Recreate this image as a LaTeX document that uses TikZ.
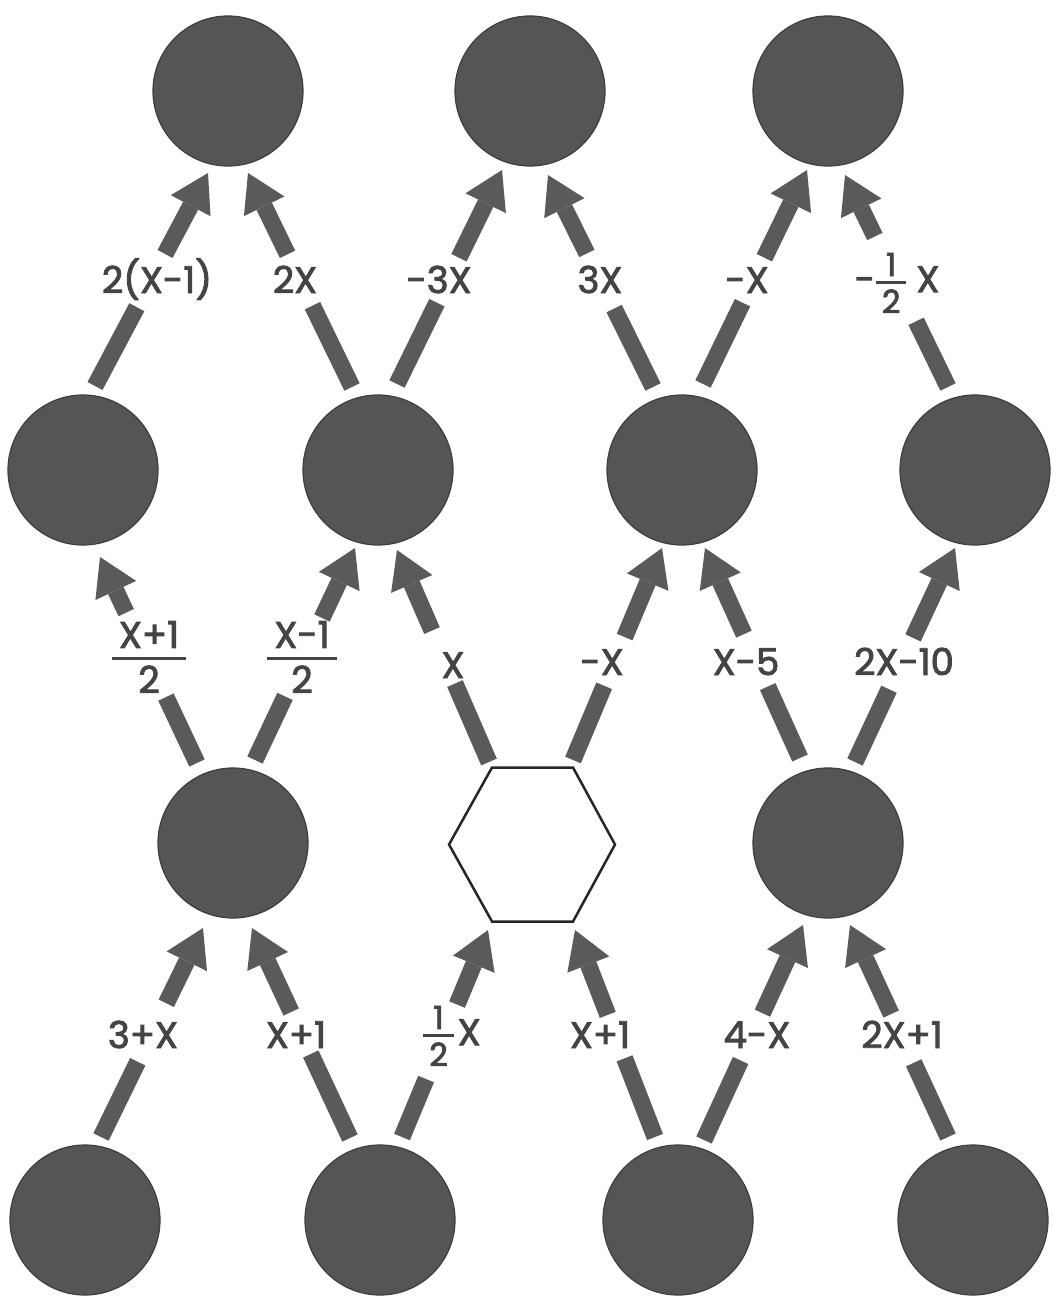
\documentclass[tikz,border=0pt]{standalone}
\usepackage{fontspec}
\newfontfamily\lblfont[FakeBold=2.5]{Poppins}
\usetikzlibrary{arrows.meta,calc}
\definecolor{discfill}{HTML}{555555}
\definecolor{discedge}{HTML}{3e3e3e}
\definecolor{barcol}{HTML}{5a5a5a}
\definecolor{ink}{HTML}{444444}
\newcommand{\bigfrac}[2]{{\setlength{\arrayrulewidth}{3pt}\renewcommand{\arraystretch}{0}%
  \begin{tabular}{@{\hspace{7pt}}c@{\hspace{7pt}}}\rule[-9pt]{0pt}{9pt}#1\\\hline\rule{0pt}{33pt}#2\end{tabular}}}
\newcommand{\smallfrac}[2]{\raisebox{3pt}{{\fontsize{32}{34}\selectfont\setlength{\arrayrulewidth}{3pt}\renewcommand{\arraystretch}{0}%
  \begin{tabular}{@{\hspace{6pt}}c@{\hspace{6pt}}}\rule[-5pt]{0pt}{5pt}#1\\\hline\rule{0pt}{29pt}#2\end{tabular}}}}
\newcommand{\linkarrow}[6]{%
  \coordinate (s) at ($(#1)+(#2)$);
  \coordinate (e) at ($(#3)+(#4)$);
  \draw[shaft] (s) -- ($(s)!#5!(e)$);
  \draw[shaft,tiphead] ($(s)!#6!(e)$) -- (e);}
\begin{document}
\begin{tikzpicture}[x=1pt,y=-1pt,
  blob/.style={circle,fill=discfill,draw=discedge,line width=1.2pt,minimum size=150pt,inner sep=0pt},
  shaft/.style={draw=barcol,line width=17pt},
  tiphead/.style={-{Triangle[length=37pt,width=45pt,line width=0pt]}},
  lbl/.style={font=\lblfont\fontsize{37}{42}\selectfont,text=ink,inner sep=0pt,text height=26pt,text depth=0pt},
  lblf/.style={font=\lblfont\fontsize{37}{42}\selectfont,text=ink,inner sep=0pt},
  hexline/.style={draw=black!85,line width=2.5pt,line join=miter}]
\useasboundingbox (0,0) rectangle (1055,1300);
% circles
\node[blob] (t1) at (228,91) {};
\node[blob] (t2) at (530,91) {};
\node[blob] (t3) at (828,91) {};
\node[blob] (m1) at (83,470) {};
\node[blob] (m2) at (378,470) {};
\node[blob] (m3) at (682,470) {};
\node[blob] (m4) at (975,470) {};
\node[blob] (h1) at (233,843) {};
\coordinate (hex) at (532,844.5);
\node[blob] (h3) at (828,843) {};
\node[blob] (b1) at (85,1220) {};
\node[blob] (b2) at (380,1220) {};
\node[blob] (b3) at (678,1220) {};
\node[blob] (b4) at (973,1220) {};
\draw[hexline] ($(hex)+(-83,0)$) -- ($(hex)+(-40,-77)$) -- ($(hex)+(41,-77)$) -- ($(hex)+(83,0)$) -- ($(hex)+(41,77)$) -- ($(hex)+(-40,77)$) -- cycle;
% arrows
\linkarrow{m1}{12,-84}{t1}{-20,82}{0.37}{0.62}
\linkarrow{m2}{-26,-83}{t1}{20,82}{0.38}{0.62}
\linkarrow{m2}{19,-86}{t2}{-28,79}{0.38}{0.59}
\linkarrow{m3}{-29,-83}{t2}{18,84}{0.37}{0.63}
\linkarrow{m3}{21,-86}{t3}{-21,79}{0.38}{0.59}
\linkarrow{m4}{-27,-83}{t3}{17,84}{0.31}{0.71}
\linkarrow{h1}{-36,-80}{m1}{17,87}{0.32}{0.73}
\linkarrow{h1}{22,-83}{m2}{-23,78}{0.30}{0.67}
\linkarrow{hex}{-43,-82.5}{m2}{19,80}{0.37}{0.62}
\linkarrow{hex}{41,-84.5}{m3}{-20,78}{0.35}{0.58}
\linkarrow{h3}{-28,-85}{m3}{23,78}{0.34}{0.59}
\linkarrow{h3}{27,-81}{m4}{-20,78}{0.34}{0.58}
\linkarrow{b1}{16,-83}{h1}{-30,85}{0.36}{0.64}
\linkarrow{b2}{-30,-82}{h1}{19,85}{0.40}{0.60}
\linkarrow{b2}{22,-83}{hex}{-44,85.5}{0.28}{0.64}
\linkarrow{b3}{-23,-83}{hex}{43,85.5}{0.38}{0.59}
\linkarrow{b3}{26,-80}{h3}{-25,82}{0.37}{0.59}
\linkarrow{b4}{-25,-83}{h3}{22,82}{0.35}{0.58}
% labels
\node[lbl] (l1) at (157,280) {2(X-1)};
\node[lbl] (l2) at (295,280) {2X};
\node[lbl] (l3) at (439,280) {-3X};
\node[lbl] (l4) at (600,280) {3X};
\node[lbl] (l5) at (747,280) {-X};
\node[lblf] (l6) at (897,283) {-\hspace{1pt}\smallfrac{1}{2}\hspace{10pt}X};
\node[lblf] (l7) at (149,657) {\bigfrac{X+1}{2}};
\node[lblf] (l8) at (302,657) {\bigfrac{X-1}{2}};
\node[lbl] (l9) at (453,665) {X};
\node[lbl] (l10) at (602,662) {-X};
\node[lbl] (l11) at (746,662) {X-5};
\node[lbl] (l12) at (904,662) {2X-10};
\node[lbl] (l13) at (143,1035) {3+X};
\node[lbl] (l14) at (296,1035) {X+1};
\node[lblf] (l15) at (452,1036) {\smallfrac{1}{2}\hspace{4pt}X};
\node[lbl] (l16) at (600,1035) {X+1};
\node[lbl] (l17) at (757,1035) {4-X};
\node[lbl] (l18) at (902,1035) {2X+1};
\end{tikzpicture}
\end{document}
